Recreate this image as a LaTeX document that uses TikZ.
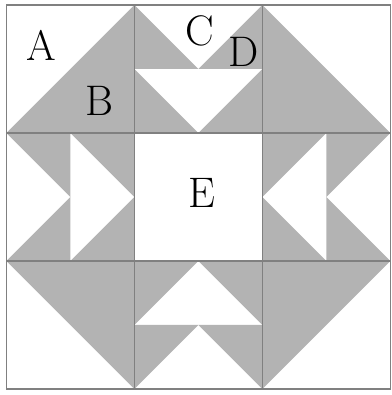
\documentclass[tikz,border=0pt]{standalone}
\definecolor{patch}{RGB}{179,179,179}
\definecolor{seam}{RGB}{128,128,128}
\tikzset{lbl/.style={font=\fontsize{19}{21}\selectfont, inner sep=0pt}}
\begin{document}
\begin{tikzpicture}[x=1cm,y=1cm]
\useasboundingbox (-0.1,-0.094) rectangle (6.01,6.078);

% gray patches (corners, then the four flying geese blocks)
\foreach \p/\q/\r in {{(2,6)}/{(0,4)}/{(2,4)}, {(4,6)}/{(4,4)}/{(6,4)},
    {(0,2)}/{(2,2)}/{(2,0)}, {(4,2)}/{(6,2)}/{(4,0)},
    {(2,6)}/{(2,5)}/{(3,5)}, {(4,6)}/{(4,5)}/{(3,5)},
    {(2,5)}/{(2,4)}/{(3,4)}, {(4,5)}/{(4,4)}/{(3,4)},
    {(2,2)}/{(3,2)}/{(2,1)}, {(4,2)}/{(3,2)}/{(4,1)},
    {(2,1)}/{(3,1)}/{(2,0)}, {(4,1)}/{(3,1)}/{(4,0)},
    {(0,4)}/{(1,4)}/{(1,3)}, {(1,4)}/{(2,4)}/{(2,3)},
    {(0,2)}/{(1,2)}/{(1,3)}, {(1,2)}/{(2,2)}/{(2,3)},
    {(4,4)}/{(5,4)}/{(4,3)}, {(5,4)}/{(6,4)}/{(5,3)},
    {(4,2)}/{(5,2)}/{(4,3)}, {(5,2)}/{(6,2)}/{(5,3)}} {
  \fill[patch] \p -- \q -- \r -- cycle;
}

% seams
\draw[seam, line width=0.65pt] (0,0) rectangle (6,6);
\foreach \k in {2,4} {
  \draw[seam, line width=0.65pt] (\k,0) -- (\k,6);
  \draw[seam, line width=0.65pt] (0,\k) -- (6,\k);
}

% labels
\node[lbl] (A) at (0.55,5.37) {A};
\node[lbl] (B) at (1.45,4.5) {B};
\node[lbl] (C) at (3.02,5.6) {C};
\node[lbl] (D) at (3.7,5.27) {D};
\node[lbl] (E) at (3.06,3.06) {E};
\end{tikzpicture}
\end{document}
